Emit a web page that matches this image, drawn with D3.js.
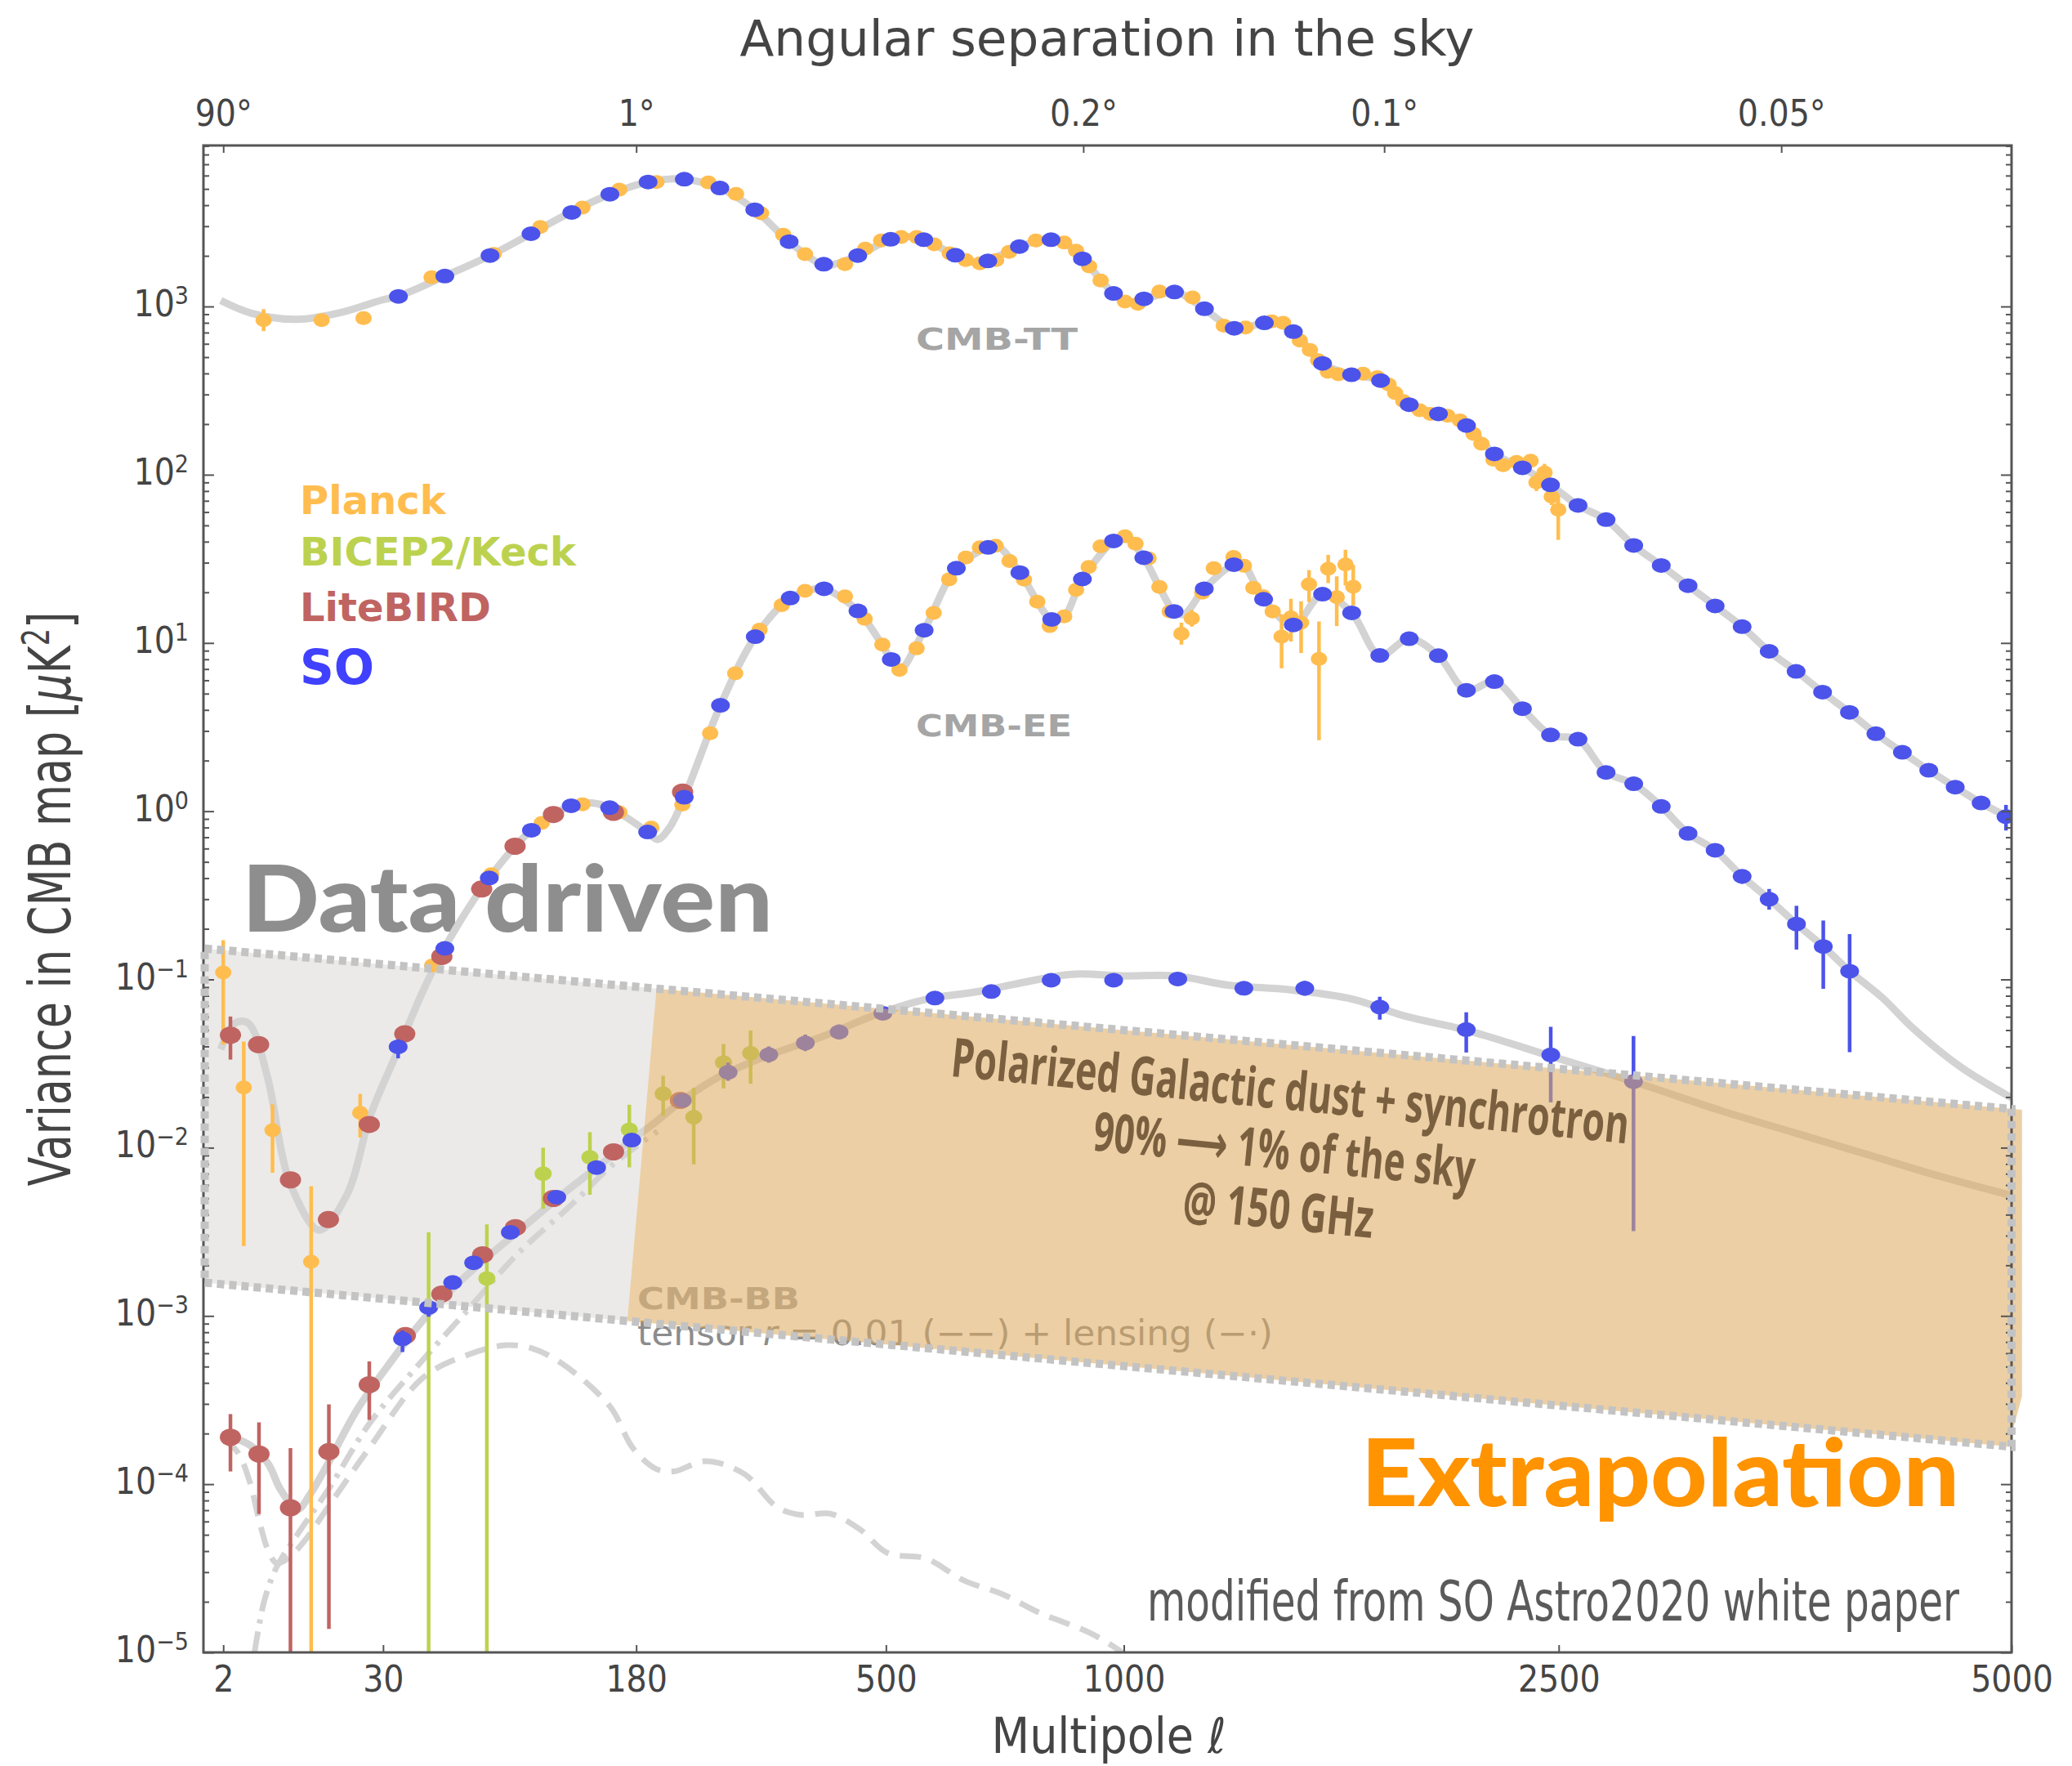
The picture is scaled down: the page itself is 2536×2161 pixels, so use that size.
<!DOCTYPE html>
<html>
<head>
<meta charset="utf-8">
<script src="https://cdn.jsdelivr.net/npm/d3@7"></script>
<style>
  body { margin: 0; background: #fff; }
  svg { display: block; }
</style>
</head>
<body>
<div id="chart"></div>
<script>
// ---------------- data (multipole l, D_l in uK^2 [, lower, upper]) ----------------
const xTickValues = [2, 30, 180, 500, 1000, 2500, 5000];
const angleTickDegrees = [90, 1, 0.2, 0.1, 0.05];
const angleTickLabels = ['90°', '1°', '0.2°', '0.1°', '0.05°'];

const ttTheory = [[1.85,1084],[4.2,912],[10,839],[19,927],[30,1097],[35,1150],[53,1517],[75,2009],[99,2707],[126,3622],[157,4645],[191,5496],[212,5720],[227,5710],[266,5063],[308,3757],[353,2428],[402,1760],[420,1790],[454,2007],[508,2510],[540,2600],[566,2494],[625,2017],[670,1810],[689,1866],[755,2270],[800,2470],[825,2494],[855,2400],[898,1920],[974,1196],[1010,1060],[1052,1110],[1133,1219],[1150,1200],[1217,970],[1290,760],[1320,742],[1397,799],[1420,805],[1489,709],[1584,459],[1684,393],[1787,363],[1892,261],[2003,230],[2112,196],[2226,133],[2343,110],[2464,87],[2586,65.7],[2714,54.1],[2844,38],[2977,28.9],[3110,21.9],[3248,16.6],[3389,12.5],[3534,8.9],[3682,6.8],[3831,5.1],[3986,3.87],[4142,2.89],[4302,2.24],[4465,1.75],[4632,1.39],[4799,1.12],[5000,0.9]];

const eeTheory = [[1.85,0.0384],[2.8,0.055],[3.9,0.055],[5.9,0.0262],[7.7,0.00935],[9,0.006],[13.9,0.00324],[20,0.00525],[26.3,0.0157],[35,0.0384],[43.6,0.083],[53.3,0.158],[74.6,0.401],[99.3,0.771],[126.6,1.078],[142,1.12],[156.8,1.05],[190.6,0.753],[200,0.68],[212,0.8],[226.9,1.21],[266.7,4.26],[308.6,10.9],[354.4,18.5],[385,20.8],[402.4,21.0],[454.3,15.5],[509,7.98],[523,6.9],[566.6,11.9],[626.7,27.8],[689.7,37.0],[710,37.5],[756.1,26.2],[826.4,13.8],[855,14.4],[897.9,24.0],[974.2,40.4],[1003,43],[1051.6,32.1],[1093,21.5],[1132.8,15.4],[1160,14.8],[1217.5,21.0],[1304,29.2],[1334,28.8],[1394.6,18.2],[1489,12.8],[1585,19.5],[1684.5,15.1],[1784,8.43],[1892,10.6],[2002.6,8.4],[2112.5,5.23],[2226,5.89],[2343,4.07],[2464,2.84],[2586,2.68],[2714,1.7],[2844,1.455],[2977,1.067],[3110,0.738],[3248,0.586],[3389,0.41],[3534,0.3],[3684,0.2135],[3835,0.157],[3987,0.112],[4180,0.078],[4371,0.0509],[4664,0.0303],[5000,0.0198]];

const bbTotal = [[2,1.95e-4],[3.9,1.73e-4],[5.9,1.34e-4],[7.6,9.2e-5],[10.1,7.1e-5],[12.1,8.6e-5],[15.8,1.34e-4],[22.4,2.73e-4],[32,5.2e-4],[43.6,9.3e-4],[55.4,1.41e-3],[71.3,2.13e-3],[89.7,3.1e-3],[120.5,5.3e-3],[146,7.6e-3],[176,1.11e-2],[200,1.45e-2],[225,1.91e-2],[264,2.62e-2],[320,3.46e-2],[399,4.56e-2],[489,6.28e-2],[570,7.62e-2],[670,8.48e-2],[767,9.65e-2],[873,0.1074],[1000,0.105],[1138,0.105],[1287,0.0925],[1480,0.0867],[1690,0.0762],[1874,0.0607],[2118,0.0497],[2465,0.035],[2843,0.0247],[3280,0.01657],[3673,0.01227],[4093,9.1e-3],[4540,6.74e-3],[5000,5.2e-3]];

const bbTensor = [[2,1.85e-4],[3,1.55e-4],[4,1.05e-4],[5,6e-5],[6,4e-5],[7,3.4e-5],[8.5,3.6e-5],[11,4.5e-5],[16,7.5e-5],[26,1.65e-4],[44,4.3e-4],[64,5.9e-4],[84,6.7e-4],[100,6.4e-4],[120,5.2e-4],[157,2.9e-4],[177,1.64e-4],[199,1.23e-4],[216,1.19e-4],[250,1.37e-4],[295,1.15e-4],[337,7.3e-5],[370,6.56e-5],[411,6.68e-5],[456,5.44e-5],[503,3.89e-5],[570,3.61e-5],[641,2.68e-5],[719,2.22e-5],[801,1.71e-5],[912,1.32e-5],[983,1.05e-5],[1050,8e-6]];

const bbLensing = [[4.5,1e-5],[5.5,2e-5],[7,3.2e-5],[10,5e-5],[16,9.5e-5],[26,2.3e-4],[44,5.5e-4],[64,1.1e-3],[90,2.3e-3],[127,4.6e-3],[160,8e-3],[200,1.25e-2]];

const planckTT = [[5.45,829,714,964],[14.4,829],[24.3,852],[47.4,1491],[77,2050],[105,2971],[135,3873],[165,4952],[199,5495],[253,5458],[285,4667],[316,3580],[345,2669],[375,2047],[434,1783],[466,2205],[492,2466],[526,2589],[553,2589],[585,2339],[614,2069],[645,1886],[673,1803],[706,1886],[733,2109],[791,2466],[855,2400],[883,2148],[914,1730],[942,1426],[1003,1069],[1036,1038],[1093,1227],[1184,1131],[1274,770],[1339,750],[1420,815],[1456,800],[1510,627],[1543,552],[1570,480],[1603,409],[1639,395],[1724,399],[1775,380],[1816,344],[1840,306],[1870,274],[1931,242],[1972,230],[2038,224],[2087,210],[2141,175],[2173,153],[2222,123],[2262,114],[2318,119],[2378,121,112,131],[2403,90,80,102],[2438,103,92,116],[2469,74,66,82],[2498,62,41,75]];

const soTT = [[35,1148],[53,1517],[75,2009],[99,2707],[127,3622],[157,4645],[191,5496],[227,5710],[266,5063],[308,3757],[353,2428],[402,1783],[454,2007],[508,2510],[566,2494],[625,2017],[689,1866],[755,2270],[825,2494],[898,1920],[974,1196],[1052,1110],[1134,1219],[1218,970],[1305,742],[1397,799],[1489,709],[1585,459],[1684,393],[1787,363],[1892,261],[2003,230],[2113,196],[2226,133],[2343,110],[2464,87],[2586,65.7],[2714,54.1],[2844,38],[2977,28.9],[3110,21.9],[3248,16.6],[3389,12.5],[3534,8.92],[3682,6.78],[3831,5.1],[3986,3.87],[4142,2.89],[4302,2.24],[4465,1.75],[4632,1.39],[4799,1.12],[4963,0.928,0.768,1.09]];

const planckEE = [[2,0.11,0.041,0.171],[3.5,0.0228,0.0026,0.0428],[6.5,0.0127,0.0071,0.0181],[12.4,0.0021,1e-7,0.0059],[23.4,0.0161,0.0115,0.0209],[47.6,0.121],[75.6,0.422],[106,0.852],[135,1.1],[165,0.985],[194,0.798],[225,1.095],[255,2.91],[284,6.6],[314,12.0],[343,16.8],[375,20.4],[434,18.9],[465,13.9],[494,9.78],[523,6.91],[553,9.29],[584,15.1],[613,23.9],[645,32.2],[673,37.0],[705,37.9],[734,30.7],[765,23.8],[794,17.6],[822,12.6],[855,14.4],[883,20.7],[913,28.3],[942,37.5],[1003,43.1],[1030,38.9],[1064,31.8],[1093,21.5],[1121,15.4],[1153,11.35,9.78,13.2],[1182,14.0,12.5,15.7],[1212,19.9],[1245,27.8],[1303,32.5],[1334,28.8],[1363,21.3],[1393,19.0],[1423,15.4],[1451,10.9,7.07,14.8],[1481,14.2,10.2,18.3],[1514,13.2,8.71,17.7],[1540,22.3,17.5,27.1],[1573,8.05,2.64,13.4],[1604,27.6,22.7,33.4],[1633,18.7,12.6,24.9],[1663,29.3,22.0,35.8],[1690,21.6,16.7,29.1]];

const soEE = [[34.9,0.0398,0.034,0.044],[53,0.153],[74.6,0.401],[99.3,0.771],[126.6,1.078],[156.8,1.05],[190.6,0.753],[226.9,1.21],[266.7,4.26],[308.6,10.9],[354.4,18.5],[402.4,21.0],[454.3,15.5],[509,7.98],[566.6,11.9],[626.7,27.8],[689.7,37.0],[756.1,26.2],[826.4,13.8],[897.9,24.0],[974.2,40.4],[1051.6,32.1],[1132.8,15.4],[1217.5,21.0],[1304,29.2],[1394.6,18.2],[1489,12.8],[1585,19.5],[1684.5,15.1],[1784,8.43],[1892,10.6],[2002.6,8.4],[2112.5,5.23],[2226,5.89],[2343,4.07],[2464,2.84],[2586,2.68],[2714,1.7],[2844,1.455],[2977,1.067],[3110,0.738],[3248,0.586],[3389,0.41,0.37,0.45],[3534,0.3,0.26,0.345],[3684,0.2135,0.1506,0.274],[3835,0.157,0.088,0.224],[3987,0.112,0.037,0.186]];

const litebirdEE = [[2.47,0.0466,0.0334,0.0602],[4.91,0.041],[8.96,0.00644],[15.8,0.00374],[25.9,0.01375],[37.2,0.0475],[51.7,0.137],[70.6,0.345],[89.2,0.619],[113.9,0.956],[160,0.985],[225.2,1.3]];

const litebirdBB = [[2.47,1.9e-4,1.19e-4,2.61e-4],[4.95,1.51e-4,6.65e-5,2.33e-4],[8.96,7.24e-5,1e-7,1.64e-4],[15.9,1.56e-4,1.38e-5,2.98e-4],[25.9,3.9e-4,2.41e-4,5.37e-4],[37.4,7.64e-4],[51.7,1.35e-3],[71.1,2.31e-3],[89.4,3.35e-3],[113.9,4.99e-3],[160.1,9.44e-3],[222.9,1.91e-2]];

const bicepBB = [[46.2,3e-6,1e-7,3.14e-3],[73.3,1.67e-3,1e-7,3.5e-3],[106.9,7.01e-3,4.33e-3,0.01],[140.8,8.77e-3,5.25e-3,0.01237],[173.8,0.01279,7.64e-3,0.018],[205.5,0.02094,0.01547,0.02677],[237,0.01518,7.96e-3,0.02268],[270.2,0.03209,0.0225,0.0413],[302.8,0.03649,0.024,0.0497]];

const soBB = [[36.4,7.31e-4,6.1e-4,8.2e-4],[46.2,1.123e-3,9.9e-4,1.24e-3],[56.5,1.58e-3],[66.5,2.07e-3],[86.4,3.14e-3],[116.2,5.08e-3],[146.1,7.62e-3],[176,0.0111],[225,0.0191],[275.6,0.0281,0.025,0.032],[325.9,0.0357,0.032,0.04],[375.4,0.0419,0.0375,0.047],[425,0.0487,0.044,0.054],[494.9,0.0629],[586.3,0.0775],[696.1,0.0848],[825.3,0.099],[974.3,0.099],[1143,0.1007],[1334,0.0886,0.082,0.096],[1526,0.0886,0.08,0.098],[1784,0.0685,0.0577,0.0789],[2112,0.0504,0.0368,0.0638],[2465,0.0356,0.0186,0.0523],[2843,0.0247,3.19e-3,0.0461]];

// foreground band edges (straight in this plot's axes) and where the orange part starts
const dustUpper = [[1, 0.153], [5000, 0.0170]];
const dustLower = [[1, 1.58e-3], [5000, 1.67e-4]];
const dustOrangeStart = [172, 199];   // l at lower edge, l at upper edge
const dustOrangeEnd = 5070;

const legendItems = [['Planck', '#ffbd4f'], ['BICEP2/Keck', '#bcd24f'], ['LiteBIRD', '#c06462'], ['SO', '#4040ff']];

// ---------------- layout ----------------
const W = 2536, H = 2161;
const plot = { left: 249, right: 2462, top: 178, bottom: 2022 };
const axisColor = '#555';
const textColor = '#444';
const narrowFont = "'Liberation Sans Narrow', 'DejaVu Sans Condensed', Roboto, sans-serif";

const x = d3.scalePow().exponent(0.4).domain([1, 5000]).range([plot.left, plot.right]);
const y = d3.scaleLog().domain([1e-5, 9060]).range([plot.bottom, plot.top]);

const svg = d3.select('#chart').append('svg')
    .attr('width', W)
    .attr('height', H)
    .style('background', '#fff');

svg.append('defs').append('clipPath').attr('id', 'plot-clip')
    .append('rect')
    .attr('x', plot.left).attr('y', plot.top)
    .attr('width', plot.right - plot.left).attr('height', plot.bottom - plot.top);

// pixel y on a band edge (edges are straight lines in pixel space)
function edgeY(edge, l) {
    const x0 = x(edge[0][0]), x1 = x(edge[1][0]);
    const y0 = y(edge[0][1]), y1 = y(edge[1][1]);
    return y0 + (x(l) - x0) / (x1 - x0) * (y1 - y0);
}

// ---------------- grey "data driven" band ----------------
svg.append('path')
    .attr('d', d3.line()([
        [x(1), edgeY(dustLower, 1)],
        [x(1), edgeY(dustUpper, 1)],
        [x(dustOrangeStart[1]), edgeY(dustUpper, dustOrangeStart[1])],
        [x(dustOrangeStart[0]), edgeY(dustLower, dustOrangeStart[0])]
    ]) + 'Z')
    .attr('fill', '#ebeae8');

svg.append('text')
    .attr('x', 296).attr('y', 1140)
    .attr('textLength', 650).attr('lengthAdjust', 'spacingAndGlyphs')
    .style('font-family', 'Lato, sans-serif').style('font-weight', 900)
    .style('font-size', '112px').style('fill', '#8e8e8e')
    .text('Data driven');

// ---------------- theory curves ----------------
const curves = svg.append('g').attr('clip-path', 'url(#plot-clip)');
const line = d3.line()
    .x(d => x(d[0]))
    .y(d => y(d[1]))
    .curve(d3.curveCatmullRom.alpha(0.5));

function drawCurve(data, width, dash) {
    curves.append('path')
        .attr('d', line(data))
        .attr('fill', 'none')
        .attr('stroke', '#d3d3d3')
        .attr('stroke-width', width)
        .attr('stroke-dasharray', dash || null)
        .attr('stroke-linejoin', 'round');
}
drawCurve(bbTensor, 7, '26 14');
drawCurve(bbLensing, 7, '26 10 5 10');
drawCurve(ttTheory, 9);
drawCurve(eeTheory, 9);
drawCurve(bbTotal, 9);

// curve labels
function curveLabel(txt, xp, yp, len) {
    svg.append('text')
        .attr('x', xp).attr('y', yp)
        .attr('textLength', len).attr('lengthAdjust', 'spacingAndGlyphs')
        .style('font-family', "'DejaVu Sans', sans-serif").style('font-weight', 'bold')
        .style('font-size', '37px').style('fill', '#a5a5a5')
        .text(txt);
}
curveLabel('CMB-TT', 1121, 428, 198);
curveLabel('CMB-EE', 1121, 901, 191);
curveLabel('CMB-BB', 780, 1602, 199);

const tensorLabel = svg.append('text')
    .attr('x', 780).attr('y', 1646)
    .attr('textLength', 778).attr('lengthAdjust', 'spacingAndGlyphs')
    .style('font-family', narrowFont).style('font-size', '42px').style('fill', '#8c8c8c');
tensorLabel.append('tspan').text('tensor ');
tensorLabel.append('tspan').style('font-style', 'italic').text('r');
tensorLabel.append('tspan').text(' = 0.01 (−−) + lensing (−·)');

// ---------------- data points with error bars ----------------
const pts = svg.append('g').attr('clip-path', 'url(#plot-clip)');

function drawSeries(data, color, rx, ry) {
    const g = pts.append('g');
    g.selectAll('line')
        .data(data.filter(d => d.length > 2))
        .enter().append('line')
        .attr('x1', d => x(d[0])).attr('x2', d => x(d[0]))
        .attr('y1', d => y(d[2])).attr('y2', d => y(d[3]))
        .attr('stroke', color).attr('stroke-width', 4.5);
    g.selectAll('ellipse')
        .data(data)
        .enter().append('ellipse')
        .attr('cx', d => x(d[0])).attr('cy', d => y(d[1]))
        .attr('rx', rx).attr('ry', ry)
        .attr('fill', color);
}
drawSeries(planckTT, '#ffbd4f', 10, 8.5);
drawSeries(planckEE, '#ffbd4f', 10, 8.5);
drawSeries(bicepBB, '#bcd24f', 10.5, 9);
drawSeries(litebirdEE, '#c06462', 13, 10.5);
drawSeries(litebirdBB, '#c06462', 13, 10.5);
drawSeries(soTT, '#4b53ea', 11.5, 9);
drawSeries(soEE, '#4b53ea', 11.5, 9);
drawSeries(soBB, '#4b53ea', 11.5, 9);

// ---------------- orange foreground (extrapolation) band ----------------
svg.append('path')
    .attr('d', d3.line()([
        [x(dustOrangeStart[0]), edgeY(dustLower, dustOrangeStart[0])],
        [x(dustOrangeStart[1]), edgeY(dustUpper, dustOrangeStart[1])],
        [x(dustOrangeEnd), edgeY(dustUpper, dustOrangeEnd)],
        [x(dustOrangeEnd), edgeY(dustLower, 4900) - 60],
        [x(4980), edgeY(dustLower, 4980)]
    ]) + 'Z')
    .attr('fill', 'rgb(222,170,95)')
    .attr('fill-opacity', 0.56);

// ---------------- frame and axes ----------------
const axes = svg.append('g').style('font-family', narrowFont);

axes.append('g')
    .attr('transform', `translate(0,${plot.bottom})`)
    .call(d3.axisBottom(x).tickValues(xTickValues).tickFormat(d3.format('d'))
        .tickSizeInner(-9).tickSizeOuter(0).tickPadding(17));

axes.append('g')
    .attr('transform', `translate(0,${plot.top})`)
    .call(d3.axisTop(x).tickValues(angleTickDegrees.map(a => 180 / a))
        .tickFormat((d, i) => angleTickLabels[i])
        .tickSizeInner(-9).tickSizeOuter(0).tickPadding(24));

const yMajor = d3.range(-5, 4).map(e => Math.pow(10, e));
const yMinor = [];
yMajor.forEach(v => d3.range(2, 10).forEach(k => { if (k * v < 9060) yMinor.push(k * v); }));

axes.append('g').attr('transform', `translate(${plot.left},0)`)
    .call(d3.axisLeft(y).tickValues(yMajor).tickFormat('').tickSizeInner(-13).tickSizeOuter(0));
axes.append('g').attr('transform', `translate(${plot.left},0)`)
    .call(d3.axisLeft(y).tickValues(yMinor).tickFormat('').tickSizeInner(-7).tickSizeOuter(0));
axes.append('g').attr('transform', `translate(${plot.right},0)`)
    .call(d3.axisRight(y).tickValues(yMajor).tickFormat('').tickSizeInner(-13).tickSizeOuter(0));
axes.append('g').attr('transform', `translate(${plot.right},0)`)
    .call(d3.axisRight(y).tickValues(yMinor).tickFormat('').tickSizeInner(-7).tickSizeOuter(0));

axes.selectAll('.domain').remove();
axes.selectAll('.tick line').attr('stroke', axisColor).attr('stroke-width', 2);
axes.selectAll('.tick text')
    .style('font-size', '44px').style('font-family', narrowFont).attr('fill', textColor);

// y tick labels as 10^n
yMajor.forEach(v => {
    const e = Math.round(Math.log10(v));
    const t = axes.append('text')
        .attr('x', 231).attr('y', y(v) + 12)
        .attr('text-anchor', 'end')
        .style('font-size', '44px').style('fill', textColor);
    t.append('tspan').text('10');
    t.append('tspan').attr('dy', -15).style('font-size', '30px')
        .text(e < 0 ? '−' + Math.abs(e) : String(e));
});

svg.append('rect')
    .attr('x', plot.left).attr('y', plot.top)
    .attr('width', plot.right - plot.left).attr('height', plot.bottom - plot.top)
    .attr('fill', 'none').attr('stroke', axisColor).attr('stroke-width', 3);

// dotted outline of the foreground band
svg.append('path')
    .attr('d', d3.line()([
        [x(1.05), edgeY(dustUpper, 1.05)],
        [x(5000), edgeY(dustUpper, 5000)],
        [x(5000), edgeY(dustLower, 5000)],
        [x(1.05), edgeY(dustLower, 1.05)]
    ]) + 'Z')
    .attr('fill', 'none')
    .attr('stroke', '#c3c3c3')
    .attr('stroke-width', 10)
    .attr('stroke-dasharray', '9 6');

// ---------------- annotations ----------------
const dustText = svg.append('g')
    .attr('transform', 'translate(1577,1358) rotate(5.7)')
    .style('font-family', "'Open Sans', sans-serif").style('font-weight', 'bold')
    .style('font-size', '66px').style('fill', '#7b6040')
    .attr('text-anchor', 'middle');
dustText.append('text').attr('y', 0)
    .attr('textLength', 833).attr('lengthAdjust', 'spacingAndGlyphs')
    .text('Polarized Galactic dust + synchrotron');
const arrowLine = dustText.append('text').attr('y', 73)
    .attr('textLength', 469).attr('lengthAdjust', 'spacingAndGlyphs');
arrowLine.append('tspan').text('90% ');
arrowLine.append('tspan').style('font-family', "'DejaVu Sans', sans-serif").text('⟶');
arrowLine.append('tspan').text(' 1% of the sky');
dustText.append('text').attr('y', 146)
    .attr('textLength', 234).attr('lengthAdjust', 'spacingAndGlyphs')
    .text('@ 150 GHz');

svg.append('text')
    .attr('x', 1666).attr('y', 1843)
    .attr('textLength', 732).attr('lengthAdjust', 'spacingAndGlyphs')
    .style('font-family', 'Lato, sans-serif').style('font-weight', 900)
    .style('font-size', '115px').style('fill', '#ff9300')
    .text('Extrapolation');

svg.append('text')
    .attr('x', 1404).attr('y', 1983)
    .attr('textLength', 994).attr('lengthAdjust', 'spacingAndGlyphs')
    .style('font-family', narrowFont)
    .style('font-size', '68px').style('fill', '#5a5a5a')
    .text('modified from SO Astro2020 white paper');

// legend
const legendY = [629, 692, 760, 837];
legendItems.forEach((item, i) => {
    svg.append('text')
        .attr('x', 367).attr('y', legendY[i])
        .style('font-family', "'DejaVu Sans', sans-serif").style('font-weight', 'bold')
        .style('font-size', i === 3 ? '58px' : '48px')
        .style('fill', item[1])
        .text(item[0]);
});

// axis titles
svg.append('text')
    .attr('x', 1355).attr('y', 68)
    .attr('text-anchor', 'middle')
    .attr('textLength', 899).attr('lengthAdjust', 'spacingAndGlyphs')
    .style('font-family', narrowFont).style('font-size', '60px').style('fill', textColor)
    .text('Angular separation in the sky');

const xTitle = svg.append('text')
    .attr('x', 1357).attr('y', 2145)
    .attr('text-anchor', 'middle')
    .style('font-family', narrowFont).style('font-size', '60px').style('fill', textColor);
xTitle.append('tspan').text('Multipole ');
xTitle.append('tspan').style('font-style', 'italic').text('ℓ');

const yTitle = svg.append('text')
    .attr('transform', 'translate(86,1100) rotate(-90)')
    .attr('text-anchor', 'middle')
    .attr('textLength', 703).attr('lengthAdjust', 'spacingAndGlyphs')
    .style('font-family', narrowFont).style('font-size', '72px').style('fill', textColor);
yTitle.append('tspan').text('Variance in CMB map [');
yTitle.append('tspan').style('font-style', 'italic').text('μ');
yTitle.append('tspan').text('K');
yTitle.append('tspan').attr('dy', -26).style('font-size', '46px').text('2');
yTitle.append('tspan').attr('dy', 26).text(']');
</script>
</body>
</html>
